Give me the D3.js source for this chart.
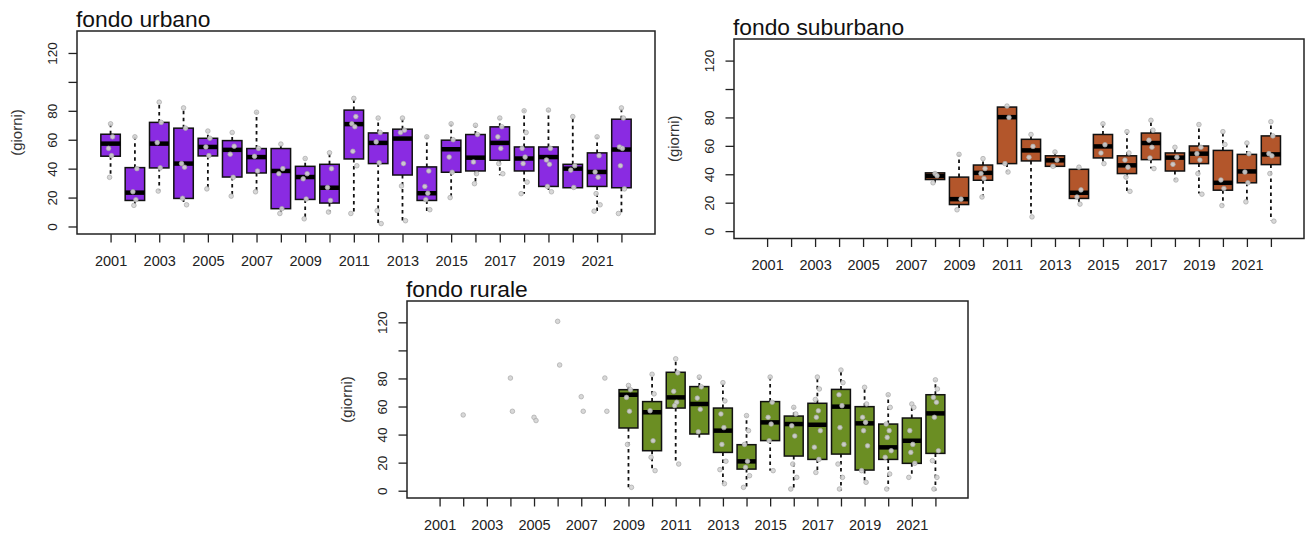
<!DOCTYPE html>
<html>
<head>
<meta charset="utf-8">
<script src="https://cdn.jsdelivr.net/npm/d3@7/dist/d3.min.js"></script>
<style>
  html, body { margin: 0; padding: 0; background: #fff; }
  svg { display: block; font-family: "Liberation Sans", Arial, sans-serif; }
</style>
</head>
<body>
<svg id="chart" width="1306" height="534"></svg>
<script>
// Years on the x axis
const years = [2001, 2002, 2003, 2004, 2005, 2006, 2007, 2008, 2009, 2010, 2011,
               2012, 2013, 2014, 2015, 2016, 2017, 2018, 2019, 2020, 2021, 2022];
const yTicks = [0, 20, 40, 60, 80, 100, 120];
const yTickLabels = ["0", "20", "40", "60", "80", "", "120"];
const xTickLabels = years.map((y, i) => i % 2 === 0 ? String(y) : "");

// ---- fondo urbano: five-number summaries per year (giorni) ----
const urbLo  = [34, 14.6, 24.5, 15.3, 26, 20.8, 23.8, 8.8, 5.3, 10, 8.8, 1.8, 4.2, 10, 19.9, 29.6, 35.4, 22.7, 23.8, 26, 10, 9.2];
const urbQ1  = [48.6, 18, 40.5, 19.4, 48.8, 34.2, 37, 12.3, 18.7, 16.2, 46.7, 43.5, 35.6, 18, 37.5, 38.4, 45.8, 38.4, 27.7, 26.8, 27.7, 26.8];
const urbMed = [57.3, 23.4, 57.3, 43.5, 55, 53, 48, 38.4, 34.2, 26.8, 70.8, 57.8, 60.8, 23, 53.4, 47.6, 57.8, 47, 48, 40, 37.7, 53.2];
const urbQ3  = [63.8, 40.7, 72, 68, 61, 59.4, 53.9, 53.9, 41.6, 43, 80.5, 64.7, 67.3, 41.2, 59.7, 63.6, 68.9, 55, 55, 43, 50.9, 74.2];
const urbHi  = [71, 62, 86, 81.6, 66, 64.7, 79.3, 57.3, 47, 51, 88.6, 74.7, 75.4, 62.4, 71.2, 70, 74.7, 80.5, 80.5, 75.8, 62, 82.3];
const urbPts = [
  [71, 62, 54, 49, 34], [62, 40, 24, 18.5, 14.6], [86, 72, 58, 40.5, 24.5], [82, 68, 43.5, 41, 19.5, 15],
  [66, 61, 55, 49, 26], [65, 55.5, 50, 34, 21], [79, 54, 48.5, 38.4, 24], [57, 40, 36.5, 12.3, 9],
  [47, 36.5, 33, 19, 5.3], [51, 40, 27, 18, 10], [88.6, 76, 71, 69, 52, 42, 9], [75, 65, 58.5, 44, 11, 2],
  [75, 66.6, 65, 43.5, 28, 4], [62, 38.4, 27.7, 23, 18.5, 11.6], [71, 60, 48, 37.5, 20], [70, 63.6, 44.6, 36.5, 29.6],
  [75, 69, 62, 54, 43.5, 36.5], [80, 65, 54, 48, 43.5, 30.7, 22.7], [80.5, 54, 46, 43, 27.7, 24], [76, 42, 39, 27],
  [62, 49, 37.7, 34, 22.7, 15, 10.6], [82, 75, 55, 54, 42, 26, 9]
];

// ---- fondo suburbano (stations from 2008) ----
const subLo  = [null, null, null, null, null, null, null, 34, 14.7, 24, 41.6, 10, 45, 19, 47.5, 28.3, 44, 35.8, 26.4, 18.2, 20.6, 7.3];
const subQ1  = [null, null, null, null, null, null, null, 36.3, 18.7, 35.8, 47.5, 49.4, 45.6, 23, 51.5, 40.5, 50.3, 42.3, 47.5, 28.8, 34, 46.8];
const subMed = [null, null, null, null, null, null, null, 38.8, 22.5, 41, 80.2, 56.8, 49.8, 27, 59.6, 46.3, 62, 51.7, 54.5, 34, 42, 54];
const subQ3  = [null, null, null, null, null, null, null, 41, 38, 46.5, 87.3, 64.6, 53, 43.5, 68, 53, 69, 55, 59.9, 56.8, 54, 67];
const subHi  = [null, null, null, null, null, null, null, 41, 54, 51, 88, 67.8, 55.7, 45, 75.6, 69.7, 78.4, 59.2, 74.9, 69.7, 62, 76.7];
const subPts = [
  [], [], [], [], [], [], [], [40.5, 39, 34],
  [54, 22.5, 15], [51, 44, 40.5, 37, 24], [88, 80, 47.5, 41.6], [68, 59.6, 52, 10],
  [55.7, 50, 45.6], [45, 29, 24, 19], [75.5, 60.8, 55, 47.5], [70, 55, 50, 45, 38, 28],
  [78, 71, 64, 59, 51.5, 44], [59, 52, 47, 36], [75, 59, 54.5, 50, 40.5, 26], [70, 61, 36, 30, 18],
  [62, 54.5, 41.6, 34, 20.6], [77, 67, 54.5, 53, 40.5, 7]
];

// ---- fondo rurale (single values only before 2009) ----
const rurLo  = [null, null, null, null, null, null, null, null, 2.4, 14.3, 19, 36.8, 4.8, 2.4, 14.3, 1.2, 13, 0, 5.9, 1.2, 9.5, 0];
const rurQ1  = [null, null, null, null, null, null, null, null, 44.7, 28.5, 58.9, 40.4, 27.3, 15.4, 35.7, 24.7, 22.3, 26.1, 14.7, 22.3, 19.5, 26.6];
const rurMed = [null, null, null, null, null, null, null, null, 68.4, 55.9, 66.5, 61.8, 42.8, 20.9, 48.7, 47.5, 47, 59.9, 48, 30.9, 35.6, 55.1];
const rurQ3  = [null, null, null, null, null, null, null, null, 72, 63.5, 84.4, 74.2, 58.9, 32.8, 63.5, 53.2, 62.3, 72.2, 59.9, 47.5, 51.8, 68.4];
const rurHi  = [null, null, null, null, null, null, null, null, 74.9, 83.2, 93.9, 80.8, 77.2, 53.5, 80.8, 59.4, 80.8, 86, 73.7, 68.4, 61.8, 78.9];
const rurPts = [
  [], [54], [], [80.3, 56.6], [52.3, 50], [120.7, 89.6], [67, 56.6], [80.3, 56.6],
  [75, 72, 66.5, 56.6, 33, 2.4], [83, 69, 57, 35.6, 23.8, 14.3], [94, 84, 70.8, 63, 60.6, 19], [81, 74, 66, 58, 42],
  [77, 64, 54.7, 45, 33, 21, 15, 5], [53.5, 42.8, 33, 21, 16.6, 10.7, 2.4], [81, 63, 52.3, 47.5, 35.6, 14.3],
  [59.4, 54.7, 46.3, 39, 19, 9.5, 1.2], [81, 72.5, 65, 57, 52.3, 42.8, 31, 22.3, 13],
  [86, 77, 68.4, 60.6, 45, 33, 19, 9.5, 1.2], [73.7, 61.8, 52.3, 48.7, 42.8, 32, 14.3, 6],
  [68.4, 59.4, 47.5, 42.8, 38, 28.5, 23.8, 11.9, 1.2], [61.8, 59.4, 42.8, 33, 27.3, 19.5, 9.5],
  [79, 72.5, 66.5, 63, 52.3, 28.5, 21.4, 9.5, 1.2]
];

const panels = [
  { title: "fondo urbano",    fill: "#8a2be2", rect: { l: 77,  r: 655,  t: 31,  b: 234 },
    lo: urbLo, q1: urbQ1, med: urbMed, q3: urbQ3, hi: urbHi, pts: urbPts },
  { title: "fondo suburbano", fill: "#b3562b", rect: { l: 734, r: 1304, t: 39,  b: 238.5 },
    lo: subLo, q1: subQ1, med: subMed, q3: subQ3, hi: subHi, pts: subPts },
  { title: "fondo rurale",    fill: "#6b8e23", rect: { l: 407, r: 968,  t: 301, b: 498 },
    lo: rurLo, q1: rurQ1, med: rurMed, q3: rurQ3, hi: rurHi, pts: rurPts }
];

const svg = d3.select("#chart");
const jitter = [0, 2, -2, 1, -1, 3, -3, 1.5, -1.5];

panels.forEach(p => {
  const R = p.rect;
  const x = d3.scaleLinear().domain([2001 - 1.38, 2022 + 1.38]).range([R.l, R.r]);
  const y = d3.scaleLinear().domain([-5.2, 135.2]).range([R.b, R.t]);
  const bw = (x(2002) - x(2001)) * 0.8;
  const g = svg.append("g");

  // axes
  const xAxis = d3.axisBottom(x).tickValues(years).tickSize(8.5).tickPadding(13)
    .tickFormat((d, i) => xTickLabels[i]);
  const gx = g.append("g").attr("transform", `translate(0,${R.b})`).call(xAxis);
  gx.select(".domain").remove();
  gx.selectAll("line").attr("stroke", "#222").attr("stroke-width", 1.3);
  gx.selectAll("text").attr("font-size", 14.5).attr("fill", "#222")
    .attr("font-family", "Liberation Sans, Arial, sans-serif");

  const yAxis = d3.axisLeft(y).tickValues(yTicks).tickSize(8.5).tickPadding(0)
    .tickFormat((d, i) => yTickLabels[i]);
  const gy = g.append("g").attr("transform", `translate(${R.l},0)`).call(yAxis);
  gy.select(".domain").remove();
  gy.selectAll("line").attr("stroke", "#222").attr("stroke-width", 1.3);
  gy.selectAll("text")
    .attr("font-size", 13.5).attr("fill", "#222")
    .attr("font-family", "Liberation Sans, Arial, sans-serif")
    .attr("text-anchor", "middle").attr("dy", null).attr("x", null)
    .attr("transform", "translate(-25,0) rotate(-90)")
    .attr("dominant-baseline", "central");

  // y axis title
  g.append("text")
    .attr("transform", `translate(${R.l - 61},${(R.t + R.b) / 2}) rotate(-90)`)
    .attr("text-anchor", "middle").attr("dominant-baseline", "central")
    .attr("font-size", 15).attr("fill", "#333").text("(giorni)");

  // panel title
  g.append("text").attr("x", R.l - 1).attr("y", R.t - 4)
    .attr("font-size", 22.8).attr("fill", "#111").text(p.title);

  // boxes
  years.forEach((yr, i) => {
    if (p.med[i] == null) return;
    const cx = x(yr);
    // whiskers (dashed)
    [[p.q3[i], p.hi[i]], [p.q1[i], p.lo[i]]].forEach(([a, b]) => {
      if (a === b) return;
      g.append("line").attr("x1", cx).attr("x2", cx).attr("y1", y(a)).attr("y2", y(b))
        .attr("stroke", "#111").attr("stroke-width", 1.8).attr("stroke-dasharray", "3.5,3.5");
    });
    g.append("rect").attr("x", cx - bw / 2).attr("width", bw)
      .attr("y", y(p.q3[i])).attr("height", y(p.q1[i]) - y(p.q3[i]))
      .attr("fill", p.fill).attr("stroke", "#111").attr("stroke-width", 1.5);
    g.append("line").attr("x1", cx - bw / 2).attr("x2", cx + bw / 2)
      .attr("y1", y(p.med[i])).attr("y2", y(p.med[i]))
      .attr("stroke", "#000").attr("stroke-width", 4.5);
  });

  // individual station values
  years.forEach((yr, i) => {
    p.pts[i].forEach((v, k) => {
      g.append("circle").attr("cx", x(yr) + jitter[k % jitter.length]).attr("cy", y(v)).attr("r", 2.3)
        .attr("fill", "#d4d4d4").attr("fill-opacity", 0.9)
        .attr("stroke", "#a8a8a8").attr("stroke-width", 0.7);
    });
  });

  // plot frame
  g.append("rect").attr("x", R.l).attr("y", R.t).attr("width", R.r - R.l).attr("height", R.b - R.t)
    .attr("fill", "none").attr("stroke", "#222").attr("stroke-width", 1.5);
});
</script>
</body>
</html>
